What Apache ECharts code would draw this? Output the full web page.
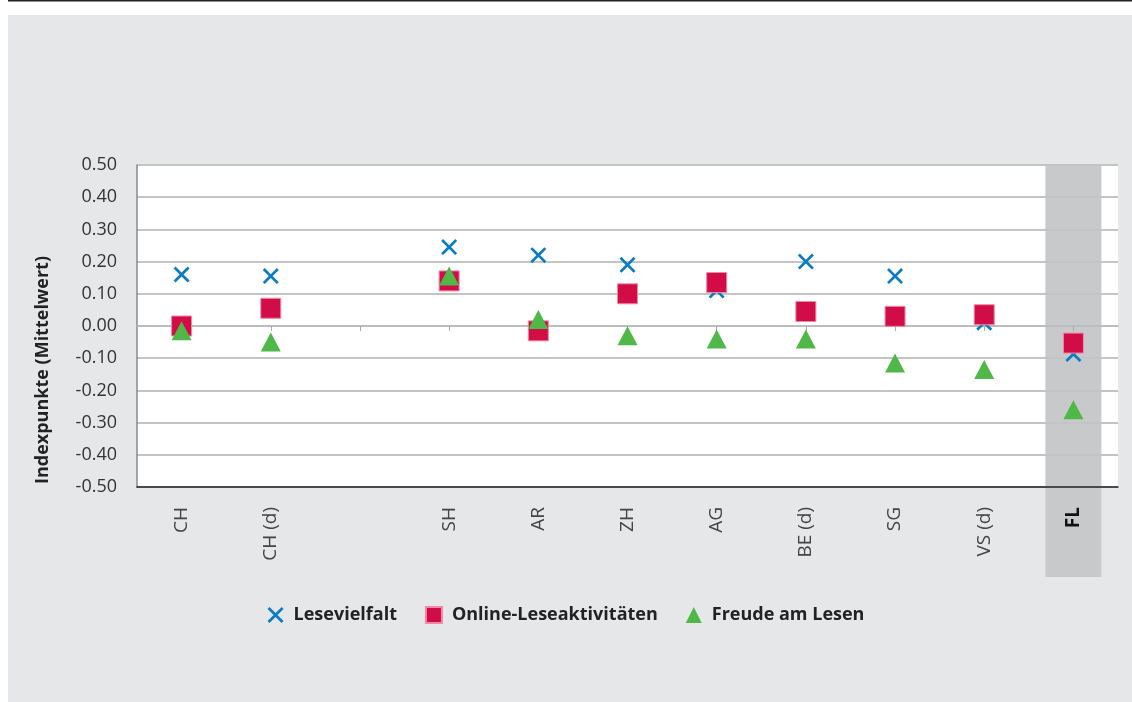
<!DOCTYPE html>
<html lang="de">

<head>
    <meta charset="UTF-8">
    <title>Lesen Indexpunkte</title>
    <script src="https://cdn.jsdelivr.net/npm/echarts@6/dist/echarts.min.js"></script>
    <style>
        html, body { margin: 0; padding: 0; background: #fff; }
        #chart { width: 1132px; height: 702px; }
    </style>
</head>

<body>
    <div id="chart"></div>
    <script>
        var categories = ['CH', 'CH (d)', '', 'SH', 'AR', 'ZH', 'AG', 'BE (d)', 'SG', 'VS (d)', 'FL'];
        var lesevielfalt = [0.16, 0.155, null, 0.245, 0.22, 0.19, 0.11, 0.20, 0.155, 0.01, -0.087];
        var onlineLesen = [0.00, 0.055, null, 0.14, -0.015, 0.10, 0.135, 0.045, 0.03, 0.035, -0.053];
        var freude = [-0.015, -0.05, null, 0.155, 0.02, -0.03, -0.04, -0.04, -0.115, -0.135, -0.26];
        var yTicks = { min: -0.5, max: 0.5, step: 0.1 };

        var crossPath = 'path://M0,1.2L1.2,0L5,3.8L8.8,0L10,1.2L6.2,5L10,8.8L8.8,10L5,6.2L1.2,10L0,8.8L3.8,5Z';
        var fontFam = '"Open Sans", "Noto Sans", sans-serif';

        var grid = { left: 137, right: 14, top: 165, bottom: 215 };

        var chart = echarts.init(document.getElementById('chart'));

        var options = {
            backgroundColor: '#fff',
            animation: false,
            textStyle: { fontFamily: fontFam },
            grid: grid,
            legend: {
                left: 'center',
                top: 601,
                itemGap: 28,
                itemWidth: 16,
                itemHeight: 16,
                textStyle: { fontSize: 18, fontWeight: 'bold', color: '#222', fontFamily: fontFam, padding: [0, 0, 0, 5] },
                data: ['Lesevielfalt', 'Online-Leseaktivitäten', 'Freude am Lesen']
            },
            xAxis: [{
                type: 'category',
                data: categories,
                position: 'bottom',
                axisLine: { onZero: false, lineStyle: { color: '#222', width: 1.5 } },
                axisTick: { show: false },
                splitLine: { show: false },
                axisLabel: {
                    rotate: 90,
                    interval: 0,
                    margin: 20,
                    fontSize: 19,
                    color: '#444',
                    formatter: function(v) {
                        return v === 'FL' ? '{b|' + v + '}' : v;
                    },
                    rich: { b: { fontWeight: 'bold', fontSize: 19, color: '#111' } }
                }
            }, {
                type: 'category',
                data: categories,
                position: 'bottom',
                axisLine: { onZero: true, lineStyle: { color: '#bbb', width: 1.5 } },
                axisTick: { show: true, alignWithLabel: true, length: 5, lineStyle: { color: '#aaa' } },
                axisLabel: { show: false },
                splitLine: { show: false }
            }],
            yAxis: {
                type: 'value',
                min: yTicks.min,
                max: yTicks.max,
                interval: yTicks.step,
                axisLine: { show: true, lineStyle: { color: '#888', width: 1.5 } },
                axisTick: { show: false },
                splitLine: { lineStyle: { color: '#c4c4c4', width: 2 } },
                axisLabel: {
                    fontSize: 18,
                    color: '#333',
                    margin: 20,
                    formatter: function(v) { return v.toFixed(2); }
                }
            },
            series: [{
                name: 'Lesevielfalt',
                type: 'scatter',
                symbol: crossPath,
                symbolSize: 16,
                itemStyle: { color: '#0a7cc3', opacity: 1 },
                data: lesevielfalt
            }, {
                name: 'Online-Leseaktivitäten',
                type: 'scatter',
                symbol: 'rect',
                symbolSize: 20,
                itemStyle: { color: '#d20c47', borderColor: '#ee8aa6', borderWidth: 1, opacity: 1 },
                data: onlineLesen
            }, {
                name: 'Freude am Lesen',
                type: 'scatter',
                symbol: 'triangle',
                symbolSize: [20, 19],
                itemStyle: { color: '#50b848', opacity: 1 },
                data: freude
            }]
        };

        chart.setOption(options);

        // Hintergrund, Plotfläche, FL-Band und Achsentitel
        var flX = chart.convertToPixel({ xAxisIndex: 0 }, 'FL');
        var plotW = 1132 - grid.left - grid.right;
        var plotH = 702 - grid.top - grid.bottom;
        chart.setOption({
            graphic: [{
                type: 'rect', z: -20,
                shape: { x: 8, y: 15, width: 1124, height: 687 },
                style: { fill: '#e6e7e8' }
            }, {
                type: 'rect', z: -20,
                shape: { x: 8, y: 0, width: 1124, height: 1.5 },
                style: { fill: '#222' }
            }, {
                type: 'rect', z: -19,
                shape: { x: grid.left, y: grid.top, width: plotW, height: plotH },
                style: { fill: '#fff' }
            }, {
                type: 'rect', z: -18,
                shape: { x: flX - 28, y: grid.top, width: 56, height: 577 - grid.top },
                style: { fill: '#c8c9cb' }
            }, {
                type: 'text',
                x: 43, y: 370,
                rotation: Math.PI / 2,
                style: {
                    text: 'Indexpunkte (Mittelwert)',
                    fontSize: 18,
                    fontWeight: 'bold',
                    fontFamily: fontFam,
                    fill: '#222',
                    align: 'center',
                    verticalAlign: 'middle'
                }
            }]
        });
    </script>
</body>

</html>
